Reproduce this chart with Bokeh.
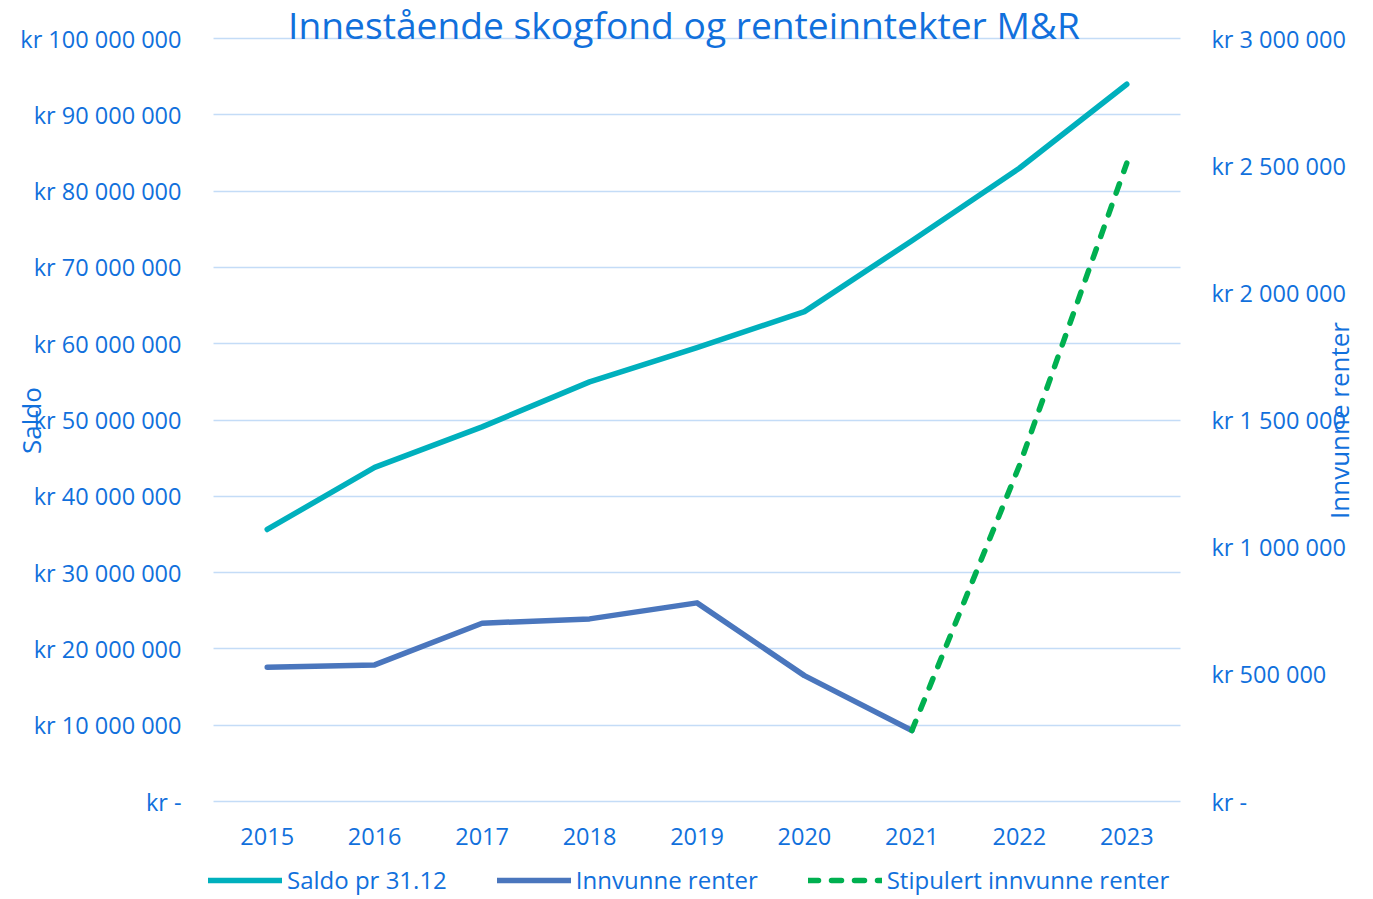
from math import pi
from bokeh.plotting import figure
from bokeh.models import (LinearAxis, Range1d, FixedTicker, CustomJSTickFormatter,
                          Legend, LegendItem, Label)
from bokeh.embed import file_html
from bokeh.resources import INLINE

# ---- data ----
years = [2015, 2016, 2017, 2018, 2019, 2020, 2021, 2022, 2023]
saldo = [35650000, 43800000, 49100000, 55000000, 59500000, 64200000, 73500000, 83000000, 94000000]
renter_years = [2015, 2016, 2017, 2018, 2019, 2020, 2021]
renter = [528000, 537000, 701000, 718000, 781000, 495000, 279000]
stip_years = [2021, 2022, 2023]
stip_renter = [279000, 1320000, 2510000]
left_ticks = [0, 10000000, 20000000, 30000000, 40000000, 50000000, 60000000,
              70000000, 80000000, 90000000, 100000000]
right_ticks = [0, 500000, 1000000, 1500000, 2000000, 2500000, 3000000]
title_text = "Innestående skogfond og renteinntekter M&R"
left_title = "Saldo"
right_title = "Innvunne renter"

TXT = "#1170dc"
FONT = "Open Sans"
GRID = "#c4dcf7"

W, H = 1373, 899
# plot area (in pixels) of the reference: 213..1180 horizontally, 38..801 vertically
F_LEFT, F_RIGHT, F_TOP, F_BOTTOM = 213, 1180, 38, 801
X0, X1 = 2014.5, 2023.5
LMAX, RMAX = 100000000, 3000000
px_per_x = (F_RIGHT - F_LEFT) / (X1 - X0)
px_per_l = (F_BOTTOM - F_TOP) / LMAX
px_per_r = (F_BOTTOM - F_TOP) / RMAX

def px_to_x(px):
    return X0 + (px - F_LEFT) / px_per_x

def py_to_l(py):
    return (F_BOTTOM - py) / px_per_l

# the drawing frame covers the whole canvas; axes are pinned at the plot-area edges
p = figure(width=W, height=H, output_backend="svg", toolbar_location=None,
           x_range=Range1d(px_to_x(0), px_to_x(W)),
           y_range=Range1d(py_to_l(H), py_to_l(0)),
           min_border_left=0, min_border_right=0, min_border_top=0, min_border_bottom=0)
p.extra_y_ranges = {"renter": Range1d(-(H - F_BOTTOM) / px_per_r, RMAX + F_TOP / px_per_r)}
p.outline_line_color = None
p.background_fill_color = "white"
p.border_fill_color = "white"

fmt = CustomJSTickFormatter(code=r"""
if (tick == 0) { return 'kr -'; }
var s = Math.round(tick).toString().replace(/\B(?=(\d{3})+(?!\d))/g, ' ');
return 'kr ' + s;
""")

def style_axis(ax):
    ax.axis_line_color = None
    ax.major_tick_line_color = None
    ax.minor_tick_line_color = None
    ax.major_label_text_color = TXT
    ax.major_label_text_font = FONT
    ax.major_label_text_font_size = "23.5px"

# left axis
lax = p.yaxis[0]
lax.ticker = FixedTicker(ticks=left_ticks)
lax.formatter = fmt
lax.fixed_location = X0
lax.major_label_standoff = 26
style_axis(lax)

# right axis
rax = LinearAxis(y_range_name="renter", ticker=FixedTicker(ticks=right_ticks), formatter=fmt,
                 fixed_location=X1)
style_axis(rax)
rax.major_label_standoff = 25
p.add_layout(rax, "right")

# x axis, pinned at value 0
xax = p.xaxis[0]
xax.ticker = FixedTicker(ticks=years)
xax.fixed_location = 0
xax.major_label_standoff = 20
style_axis(xax)

p.xgrid.grid_line_color = None
p.ygrid.ticker = FixedTicker(ticks=left_ticks)
grid_ok = True
try:
    p.ygrid.cross_bounds = (X0, X1)
except Exception:
    grid_ok = False
if grid_ok:
    p.ygrid.grid_line_color = GRID
    p.ygrid.grid_line_width = 1.5
else:
    p.ygrid.grid_line_color = None
    p.segment(x0=[X0] * len(left_ticks), x1=[X1] * len(left_ticks), y0=left_ticks,
              y1=left_ticks, line_color=GRID, line_width=1.5, level="underlay")

r1 = p.line(years, saldo, line_color="#00b0bd", line_width=5.5, line_cap="round", line_join="round")
r2 = p.line(renter_years, renter, line_color="#4a76bd", line_width=5.5, line_cap="round",
            line_join="round", y_range_name="renter")
r3 = p.line(stip_years, stip_renter, line_color="#00b050", line_width=5.5, line_cap="round",
            line_dash="10 13", y_range_name="renter")

legend = Legend(items=[LegendItem(label="Saldo pr 31.12", renderers=[r1]),
                       LegendItem(label="Innvunne renter", renderers=[r2]),
                       LegendItem(label="Stipulert innvunne renter", renderers=[r3])],
                orientation="horizontal", location=(208, 3),
                glyph_width=74, glyph_height=24, label_standoff=5, spacing=50,
                border_line_color=None, background_fill_alpha=0,
                label_text_color=TXT, label_text_font=FONT,
                label_text_font_size="24px", margin=0, padding=0)
p.add_layout(legend, "center")

# chart title
p.add_layout(Label(x=px_to_x(683.5), y=LMAX, text=title_text, text_align="center",
                   text_baseline="middle", text_color=TXT, text_font=FONT,
                   text_font_size="37.2px", y_offset=14))

# axis titles
p.add_layout(Label(x=px_to_x(30), y=py_to_l(420), text=left_title, angle=pi / 2,
                   text_align="center", text_baseline="middle", text_color=TXT,
                   text_font=FONT, text_font_size="26px"))
p.add_layout(Label(x=px_to_x(1338), y=py_to_l(420), text=right_title, angle=pi / 2,
                   text_align="center", text_baseline="middle", text_color=TXT,
                   text_font=FONT, text_font_size="26px"))

open("out.html", "w").write(file_html(p, INLINE))
